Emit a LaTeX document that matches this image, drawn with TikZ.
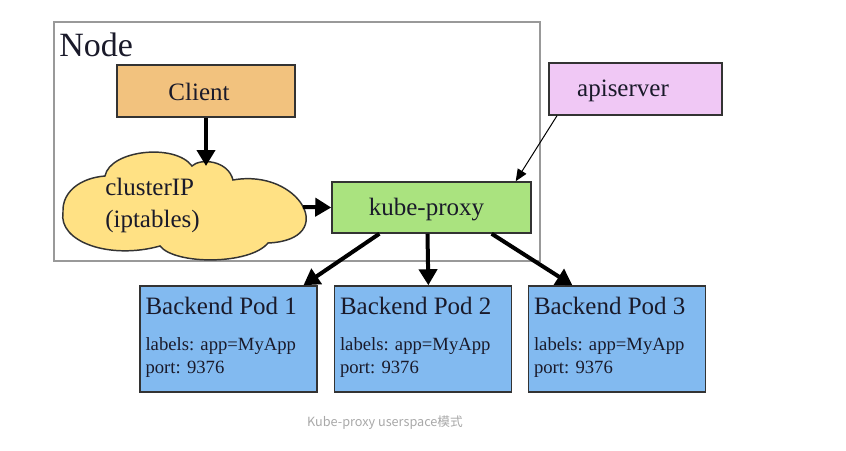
\documentclass[tikz,border=0pt]{standalone}
\usepackage{fontspec}
\setmainfont{Liberation Serif}
\newfontfamily\cjkfont{Noto Sans CJK SC}
\usetikzlibrary{arrows.meta,calc}
\definecolor{clientfill}{HTML}{F2C27E}
\definecolor{cloudfill}{HTML}{FFE184}
\definecolor{kpfill}{HTML}{AAE37F}
\definecolor{apifill}{HTML}{F0C8F5}
\definecolor{podfill}{HTML}{82BAF0}
\definecolor{boxline}{HTML}{333333}
\definecolor{txt}{HTML}{1A1A2A}
\definecolor{capgray}{HTML}{A8A8A8}
\tikzset{
  box/.style={draw=boxline, line width=1.1pt, rectangle, inner sep=0pt},
  bigtxt/.style={font=\fontsize{18.75pt}{20pt}\selectfont, text=txt, inner sep=0pt},
  smalltxt/.style={font=\fontsize{14pt}{15pt}\selectfont, text=txt, inner sep=0pt, anchor=base west},
  thickarrow/.style={line width=3pt, -{Triangle[length=12pt,width=13.5pt]}},
  thinarrow/.style={line width=0.75pt, -{Triangle[length=9pt,width=7.5pt]}},
}
\begin{document}
\begin{tikzpicture}[x=0.75pt,y=-0.75pt]
\useasboundingbox (0,0) rectangle (846,450);
% outer Node frame
\node[draw=black!40, line width=0.8pt, rectangle, inner sep=0pt, minimum width=364.5pt, minimum height=179.25pt] (frame) at (297,141.5) {};
\node[font=\fontsize{25.5pt}{27pt}\selectfont, text=txt, inner sep=0pt, anchor=base west] (frameT) at (59,56) {Node};
% Client
\node[box, fill=clientfill, minimum width=133.5pt, minimum height=39pt] (client) at (206,91) {};
\node[bigtxt, anchor=base] (clientT) at (199,100) {Client};
% cloud
\path[draw=boxline, line width=1.1pt, fill=cloudfill]
  (63,212) .. controls (62,192) and (80,178) .. (105,176)
  .. controls (110,150) and (175,143) .. (192,166)
  .. controls (200,158) and (228,160) .. (233,180)
  .. controls (300,168) and (340,240) .. (268,243)
  .. controls (250,265) and (175,265) .. (160,246)
  .. controls (110,260) and (58,242) .. (63,212) -- cycle;
\coordinate (cloudTop) at (206,166);
\coordinate (cloudRight) at (303,207);
\node[bigtxt, anchor=base west] (cloudT1) at (105,195) {clusterIP};
\node[bigtxt, anchor=base west] (cloudT2) at (105,227) {(iptables)};
% kube-proxy
\node[box, fill=kpfill, minimum width=149.25pt, minimum height=38.25pt] (kp) at (431.5,207.5) {};
\node[bigtxt, anchor=base] (kpT) at (426.5,215) {kube-proxy};
% apiserver
\node[box, fill=apifill, minimum width=129.75pt, minimum height=39pt] (api) at (635.5,89) {};
\node[bigtxt, anchor=base] (apiT) at (623,96) {apiserver};
% pods
\foreach \i/\cx in {1/228.5, 2/423, 3/617}{
  \node[box, fill=podfill, minimum width=132.75pt, minimum height=79.5pt] (pod\i) at (\cx,339) {};
  \node[bigtxt, anchor=base west] (pod\i T) at ($(pod\i.north west)+(6,29)$) {Backend Pod \i};
  \node[smalltxt] (pod\i L) at ($(pod\i.north west)+(6,65)$) {labels: app=MyApp};
  \node[smalltxt] (pod\i P) at ($(pod\i.north west)+(6,88)$) {port: 9376};
}
% arrows
\draw[thickarrow] (client.south) -- (cloudTop);
\draw[thickarrow] (cloudRight) -- (kp.west);
\draw[thinarrow] ($(api.south west)!0.05!(api.south east)$) -- ($(kp.north west)!0.92!(kp.north east)$);
\draw[thickarrow] ($(kp.south west)!0.24!(kp.south east)$) -- ($(pod1.north west)!0.92!(pod1.north east)$);
\draw[thickarrow] ($(kp.south west)!0.48!(kp.south east)$) -- ($(pod2.north west)!0.53!(pod2.north east)$);
\draw[thickarrow] ($(kp.south west)!0.80!(kp.south east)$) -- ($(pod3.north west)!0.25!(pod3.north east)$);
% caption
\node[font=\cjkfont\fontsize{9.5pt}{11pt}\selectfont, text=capgray, inner sep=0pt] (caption) at (385,423) {Kube-proxy userspace模式};
\end{tikzpicture}
\end{document}
